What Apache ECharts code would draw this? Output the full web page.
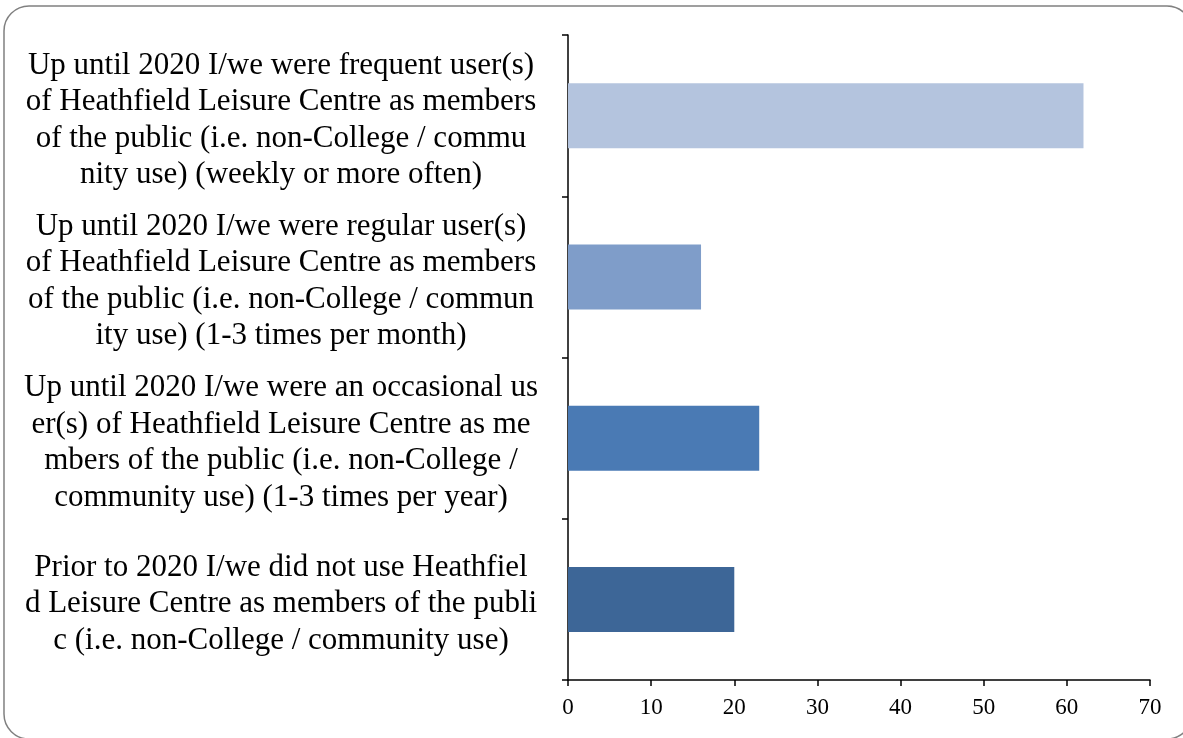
<!DOCTYPE html>
<html>
<head>
<meta charset="utf-8">
<script src="https://cdn.jsdelivr.net/npm/echarts@6/dist/echarts.min.js"></script>
<style>
html,body{margin:0;padding:0;background:#fff;}
#c{width:1183px;height:738px;}
</style>
</head>
<body>
<div id="c"></div>
<script>
const categories = [
  "Up until 2020 I/we were frequent user(s)\nof Heathfield Leisure Centre as members\nof the public (i.e. non-College / commu\nnity use) (weekly or more often)",
  "Up until 2020 I/we were regular user(s)\nof Heathfield Leisure Centre as members\nof the public (i.e. non-College / commun\nity use) (1-3 times per month)",
  "Up until 2020 I/we were an occasional us\ner(s) of Heathfield Leisure Centre as me\nmbers of the public (i.e. non-College /\ncommunity use) (1-3 times per year)",
  "Prior to 2020 I/we did not use Heathfiel\nd Leisure Centre as members of the publi\nc (i.e. non-College / community use)"
];
const values = [62, 16, 23, 20];
const barColors = ["#B4C4DE", "#7F9DC9", "#4A7AB4", "#3D6697"];
const xTicks = [0, 10, 20, 30, 40, 50, 60, 70];

const FONT = "'Liberation Serif', 'DejaVu Serif', serif";
const chart = echarts.init(document.getElementById('c'), null, {renderer: 'canvas'});
chart.setOption({
  animation: false,
  backgroundColor: '#fff',
  graphic: [{
    type: 'rect',
    shape: {x: 4, y: 6, width: 1188, height: 733, r: 25},
    style: {fill: 'none', stroke: '#808080', lineWidth: 1.5},
    z: 0
  }],
  grid: {left: 568, right: 33, top: 35, bottom: 58, containLabel: false},
  xAxis: {
    type: 'value',
    min: xTicks[0],
    max: xTicks[xTicks.length - 1],
    interval: 10,
    splitLine: {show: false},
    axisLine: {show: true, lineStyle: {color: '#000', width: 1.5}},
    axisTick: {show: true, length: 6, lineStyle: {color: '#000', width: 1.5}},
    axisLabel: {color: '#000', fontFamily: FONT, fontSize: 23, margin: 16}
  },
  yAxis: {
    type: 'category',
    inverse: true,
    data: categories,
    axisLine: {show: true, lineStyle: {color: '#000', width: 1.5}},
    axisTick: {show: true, length: 6, alignWithLabel: false, lineStyle: {color: '#000', width: 1.5}},
    axisLabel: {
      color: '#000', fontFamily: FONT, fontSize: 31, lineHeight: 36.5,
      align: 'center', margin: 287, interval: 0,
      formatter: v => '{p|}\n' + v.split('\n').map(l => '{a|' + l + '}').join('\n'),
      rich: {
        a: {color: '#000', fontFamily: FONT, fontSize: 31, lineHeight: 36.5},
        p: {height: 9, lineHeight: 9, fontSize: 9}
      }
    }
  },
  series: [{
    type: 'bar',
    barWidth: 65,
    data: values.map((v, i) => ({value: v, itemStyle: {color: barColors[i]}}))
  }]
});
</script>
</body>
</html>
